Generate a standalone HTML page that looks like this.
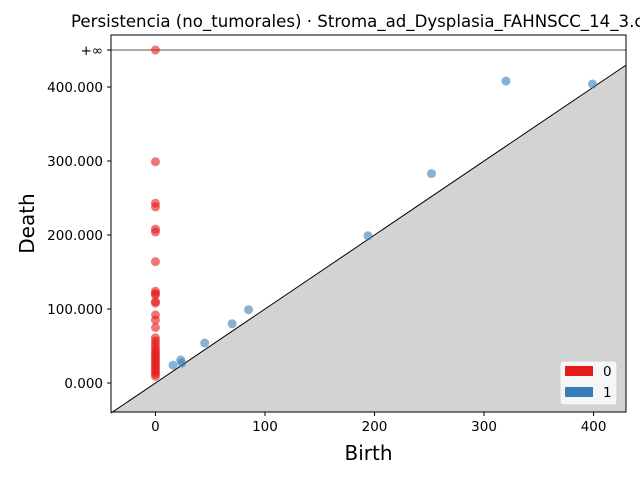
<!DOCTYPE html>
<html><head><meta charset="utf-8"><style>
body{margin:0;background:#fff;overflow:hidden;}
svg text{font-family:"DejaVu Sans","Liberation Sans",sans-serif;}
</style></head><body>
<svg id="chart" width="640" height="480" xmlns="http://www.w3.org/2000/svg">
<text x="71" y="27" font-size="16.6" fill="#000">Persistencia (no_tumorales) · Stroma_ad_Dysplasia_FAHNSCC_14_3.c</text>
<g id="plot"></g>
</svg>
<script>
const xTicks=[0,100,200,300,400];
const yTicks=[0,100,200,300,400];
const yTickLabels=["0.000","100.000","200.000","300.000","400.000"];
const h0Deaths=[450,299,243,238,208,204,164,124,121,119,110,108,92,85,75,61,57,53,49,45,42,39,36,33,30,27,24,21,18,15,12,9];
const h1Births=[16,23,24,45,70,85,194,252,320,399];
const h1Deaths=[24,31,27,54,80,99,199,283,408,404];
const infValue=450;

const L=111,R=626,T=35,B=412;
const xMin=-40.6,xMax=429.6,yMin=-39.2,yMax=470.3;
const sx=v=>L+(v-xMin)/(xMax-xMin)*(R-L);
const sy=v=>B-(v-yMin)/(yMax-yMin)*(B-T);
const NS="http://www.w3.org/2000/svg";
const g=document.getElementById('plot');
function mk(tag,attrs){const e=document.createElementNS(NS,tag);for(const k in attrs)e.setAttribute(k,attrs[k]);g.appendChild(e);return e;}
let poly=mk('polygon',{points:`${sx(xMin)},${sy(xMin)} ${sx(xMax)},${sy(xMax)} ${sx(xMax)},${B} ${sx(xMin)},${B}`,fill:'#d3d3d3'});


let dl=mk('line',{x1:sx(xMin),y1:sy(xMin),x2:sx(xMax),y2:sy(xMax),stroke:'#000','stroke-width':1});


let il=mk('line',{x1:L,y1:sy(infValue),x2:R,y2:sy(infValue),stroke:'#555','stroke-width':1});


h0Deaths.forEach(d=>{const c=mk('circle',{cx:sx(0),cy:sy(d),r:4.5,fill:'#e41a1c','fill-opacity':0.6});

});
h1Births.forEach((b,i)=>{const c=mk('circle',{cx:sx(b),cy:sy(h1Deaths[i]),r:4.5,fill:'#377eb8','fill-opacity':0.6});

});
let fr=mk('rect',{x:L,y:T,width:R-L,height:B-T,fill:'none',stroke:'#000','stroke-width':1});


xTicks.forEach(v=>{mk('line',{x1:sx(v),y1:B,x2:sx(v),y2:B+4,stroke:'#000'});
const t=mk('text',{x:sx(v),y:B+19,'font-size':13.5,'text-anchor':'middle'});t.textContent=v;

});
yTicks.forEach((v,i)=>{mk('line',{x1:L-4,y1:sy(v),x2:L,y2:sy(v),stroke:'#000'});
const t=mk('text',{x:L-8,y:sy(v)+5,'font-size':13.5,'text-anchor':'end'});t.textContent=yTickLabels[i];

});
mk('line',{x1:L-4,y1:sy(infValue),x2:L,y2:sy(infValue),stroke:'#000'});
let it=mk('text',{x:L-8,y:sy(infValue)+5,'font-size':13.5,'text-anchor':'end'});it.textContent='+∞';


let xt=mk('text',{x:(L+R)/2,y:460,'font-size':20,'text-anchor':'middle'});xt.textContent='Birth';


let yt=mk('text',{x:34,y:(T+B)/2,'font-size':20,'text-anchor':'middle',transform:`rotate(-90 34 ${(T+B)/2})`});yt.textContent='Death';


let lg=mk('rect',{x:560,y:361,width:57,height:44,fill:'#fff','fill-opacity':0.8,stroke:'#ccc',rx:3});


[['0','#e41a1c',366],['1','#377eb8',387]].forEach(([lab,col,y])=>{
const r=mk('rect',{x:565,y:y,width:28,height:10,fill:col});


const t=mk('text',{x:603,y:y+10,'font-size':13.5});t.textContent=lab;

});
</script>
</body></html>
